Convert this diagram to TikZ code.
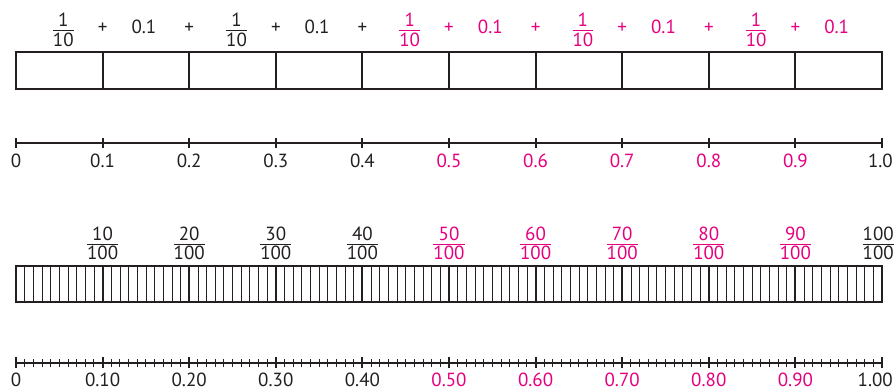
\documentclass[tikz,border=0pt]{standalone}
\usepackage{fontspec}
\setmainfont{PT Sans}
\definecolor{mag}{RGB}{230,0,126}
\definecolor{ink}{RGB}{35,31,32}
\setlength\arrayrulewidth{1pt}
\renewcommand\arraystretch{0.85}
\newcommand\myfr[2]{\begin{tabular}{@{}c@{}}#1\\[-2pt]\hline\rule{0pt}{15pt}#2\end{tabular}}
\tikzset{
  lbl/.style={font=\fontsize{19}{22}\selectfont, text=ink, inner sep=0pt},
  frame/.style={line width=2pt, draw=ink},
  divline/.style={line width=1.6pt, draw=ink},
  thinline/.style={line width=0.7pt, draw=ink},
  axis/.style={line width=1.5pt, draw=ink},
}
\begin{document}
\begin{tikzpicture}[x=1pt,y=-1pt]
\useasboundingbox (0,0) rectangle (895,391);
\def\L{16}\def\W{86.6}
% ---- bar 1
\foreach \k in {1,...,9}{
  \pgfmathsetmacro\xx{round(\L+\W*\k)}
  \draw[divline] (\xx,52) -- (\xx,89);
}
\draw[frame] (16,52) rectangle (882,89);
% top labels
\foreach \k in {0,...,9}{
  \pgfmathtruncatemacro\isodd{mod(\k,2)}
  \ifnum\k<4 \def\c{ink}\else\def\c{mag}\fi
  \ifnum\isodd=0
    \pgfmathsetmacro\cx{\L+\W*(\k+0.5)+4}
    \node[lbl,text=\c,anchor=north] (tf\k) at (\cx,12.7) {\myfr{1}{10}};
  \else
    \pgfmathsetmacro\cx{\L+\W*(\k+0.5)-2}
    \node[lbl,text=\c,anchor=base] (td\k) at (\cx,33) {0.1};
  \fi
}
\foreach \k in {1,...,9}{
  \ifnum\k<5 \def\c{ink}\else\def\c{mag}\fi
  \node[lbl,text=\c,anchor=base] (plus\k) at ({\L+\W*\k},33) {+};
}
% ---- number line 1
\coordinate (n1a) at (16,143);
\coordinate (n1b) at (882,143);
\draw[axis] (n1a) -- (n1b);
\foreach \k in {0,...,10}{
  \pgfmathsetmacro\xx{round(\L+\W*\k)}
  \draw[axis] (\xx,138) -- (\xx,148);
}
\node[lbl,anchor=base] (l1n0) at (16,167) {0};
\foreach \k in {1,...,9}{
  \ifnum\k<5 \def\c{ink}\else\def\c{mag}\fi
  \node[lbl,text=\c,anchor=base] (l1n\k) at ({\L+\W*\k},167) {0.\k};
}
\node[lbl,anchor=base east] (l1n10) at (893,167) {1.0};
% ---- bar 2
\foreach \k in {1,...,99} \draw[thinline] ({\L+\W*\k/10},266) -- ({\L+\W*\k/10},302);
\foreach \k in {1,...,9}{
  \pgfmathsetmacro\xx{round(\L+\W*\k)}
  \draw[divline] (\xx,266) -- (\xx,302);
}
\draw[frame] (16,266) rectangle (882,302);
\foreach \k in {1,...,9}{
  \ifnum\k<5 \def\c{ink}\else\def\c{mag}\fi
  \node[lbl,text=\c,anchor=north] (bf\k) at ({\L+\W*\k},226.5) {\myfr{\k0}{100}};
}
\node[lbl,anchor=north east] (bf10) at (894,226.5) {\myfr{100}{100}};
% ---- number line 2
\coordinate (n2a) at (16,363);
\coordinate (n2b) at (882,363);
\draw[axis] (n2a) -- (n2b);
\foreach \k in {1,...,99} \draw[line width=0.9pt,draw=ink] ({\L+\W*\k/10},359) -- ({\L+\W*\k/10},367);
\foreach \k in {0,...,10}{
  \pgfmathsetmacro\xx{round(\L+\W*\k)}
  \draw[axis] (\xx,357) -- (\xx,368);
}
\node[lbl,anchor=base] (l2n0) at (16,386.5) {0};
\foreach \k in {1,...,9}{
  \ifnum\k<5 \def\c{ink}\else\def\c{mag}\fi
  \node[lbl,text=\c,anchor=base] (l2n\k) at ({\L+\W*\k},386.5) {0.\k0};
}
\node[lbl,anchor=base east] (l2n10) at (893,386.5) {1.00};
\end{tikzpicture}
\end{document}
